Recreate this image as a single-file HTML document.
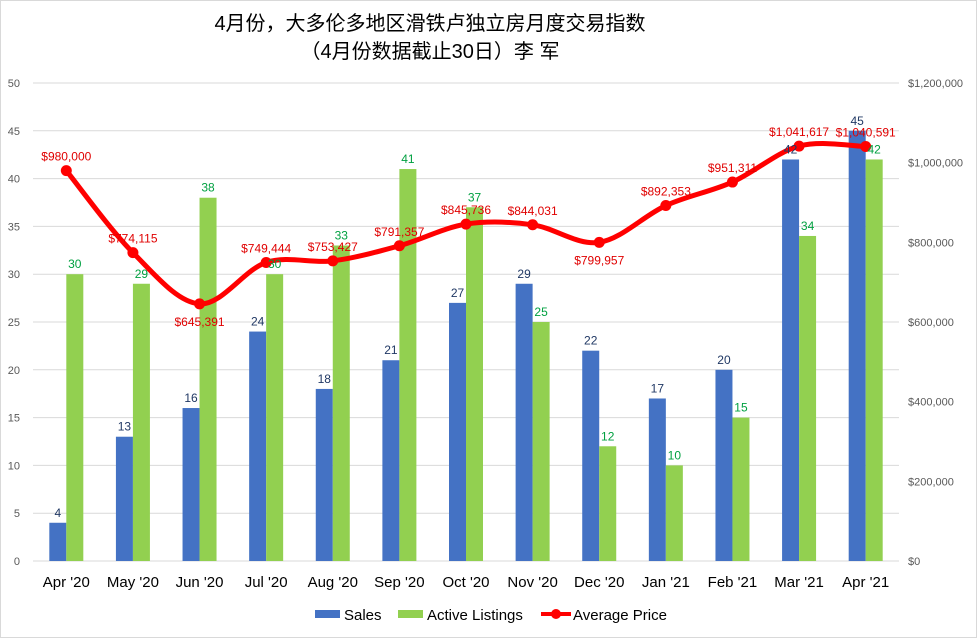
<!DOCTYPE html>
<html><head><meta charset="utf-8"><style>
body{margin:0;background:#fff;}
svg{display:block;font-family:"Liberation Sans","Noto Sans CJK SC",sans-serif;}
</style></head><body>
<svg id="c" width="977" height="638">
<rect x="0.5" y="0.5" width="976" height="637" fill="#fff" stroke="#d9d9d9"/>
<text x="430" y="30" font-size="20" text-anchor="middle">4月份，大多伦多地区滑铁卢独立房月度交易指数</text>
<text x="430" y="58" font-size="20" text-anchor="middle">（4月份数据截止30日）李 军</text>
<g id="grid"></g><g id="bars"></g><g id="line"></g><g id="labels"></g>
<g>
<rect x="315" y="610" width="25" height="8" fill="#4472c4"/>
<text x="344" y="620" font-size="15">Sales</text>
<rect x="398" y="610" width="25" height="8" fill="#92d050"/>
<text x="427" y="620" font-size="15">Active Listings</text>
<line x1="541" y1="614" x2="571" y2="614" stroke="#f00" stroke-width="4"/>
<circle cx="556" cy="614" r="5" fill="#f00"/>
<text x="573" y="620" font-size="15">Average Price</text>
</g>
</svg>
<script>
const categories=["Apr '20","May '20","Jun '20","Jul '20","Aug '20","Sep '20","Oct '20","Nov '20","Dec '20","Jan '21","Feb '21","Mar '21","Apr '21"];
const sales=[4,13,16,24,18,21,27,29,22,17,20,42,45];
const listings=[30,29,38,30,33,41,37,25,12,10,15,34,42];
const prices=[980000,774115,645391,749444,753427,791357,845736,844031,799957,892353,951311,1041617,1040591];
const leftTicks=[0,5,10,15,20,25,30,35,40,45,50];
const rightTicks=[0,200000,400000,600000,800000,1000000,1200000];
const NS="http://www.w3.org/2000/svg";
const x0=33,x1=899,y0=561,y1=83;
const band=(x1-x0)/categories.length;
const xc=i=>x0+band*(i+0.5);
const yL=v=>y0-(v/50)*(y0-y1);
const yR=v=>y0-(v/1200000)*(y0-y1);
function mk(tag,attrs,parent,text){const e=document.createElementNS(NS,tag);for(const k in attrs)e.setAttribute(k,attrs[k]);if(text!==undefined)e.textContent=text;parent.appendChild(e);return e;}
const grid=document.getElementById('grid'),bars=document.getElementById('bars'),line=document.getElementById('line'),labels=document.getElementById('labels');
const fmt=v=>'$'+v.toLocaleString('en-US');
leftTicks.forEach(t=>{
 const g=mk('line',{x1:x0,x2:x1,y1:yL(t),y2:yL(t),stroke:'#d9d9d9','stroke-width':1},grid);
 
 
 const l=mk('text',{x:20,y:yL(t)+4,'font-size':11,'text-anchor':'end',fill:'#595959'},grid,t);
 
 
});
rightTicks.forEach(t=>{
 const l=mk('text',{x:908,y:yR(t)+4,'font-size':11,fill:'#595959'},grid,fmt(t));
 
 
});
const bw=17;
categories.forEach((c,i)=>{
 const cx=xc(i);
 const b=mk('rect',{x:cx-bw,y:yL(sales[i]),width:bw,height:y0-yL(sales[i]),fill:'#4472c4'},bars);
 
 
 const g=mk('rect',{x:cx,y:yL(listings[i]),width:bw,height:y0-yL(listings[i]),fill:'#92d050'},bars);
 
 
 const sl=mk('text',{x:cx-bw/2,y:yL(sales[i])-6,'font-size':12,'text-anchor':'middle',fill:'#203864'},labels,sales[i]);
 
 
 const gl=mk('text',{x:cx+bw/2,y:yL(listings[i])-6,'font-size':12,'text-anchor':'middle',fill:'#00a040'},labels,listings[i]);
 
 
 const xl=mk('text',{x:cx,y:587,'font-size':15,'text-anchor':'middle',fill:'#000'},grid,c);
 
 
});
const pts=prices.map((p,i)=>[xc(i),yR(p)]);
let d='M'+pts[0][0]+','+pts[0][1];
for(let i=0;i<pts.length-1;i++){
 const p0=pts[Math.max(0,i-1)],p1=pts[i],p2=pts[i+1],p3=pts[Math.min(pts.length-1,i+2)];
 const t=6;
 d+=` C${p1[0]+(p2[0]-p0[0])/t},${p1[1]+(p2[1]-p0[1])/t} ${p2[0]-(p3[0]-p1[0])/t},${p2[1]-(p3[1]-p1[1])/t} ${p2[0]},${p2[1]}`;
}
const pl=mk('path',{d:d,fill:'none',stroke:'#f00','stroke-width':5,'stroke-linejoin':'round'},line);


const below=[false,false,true,false,false,false,false,false,true,false,false,false,false];
pts.forEach((p,i)=>{
 const m=mk('circle',{cx:p[0],cy:p[1],r:5.5,fill:'#f00'},line);
 
 
 const pl2=mk('text',{x:p[0],y:below[i]?p[1]+22:p[1]-10,'font-size':12,'text-anchor':'middle',fill:'#e00000'},labels,fmt(prices[i]));
 
 
});
</script>
</body></html>
